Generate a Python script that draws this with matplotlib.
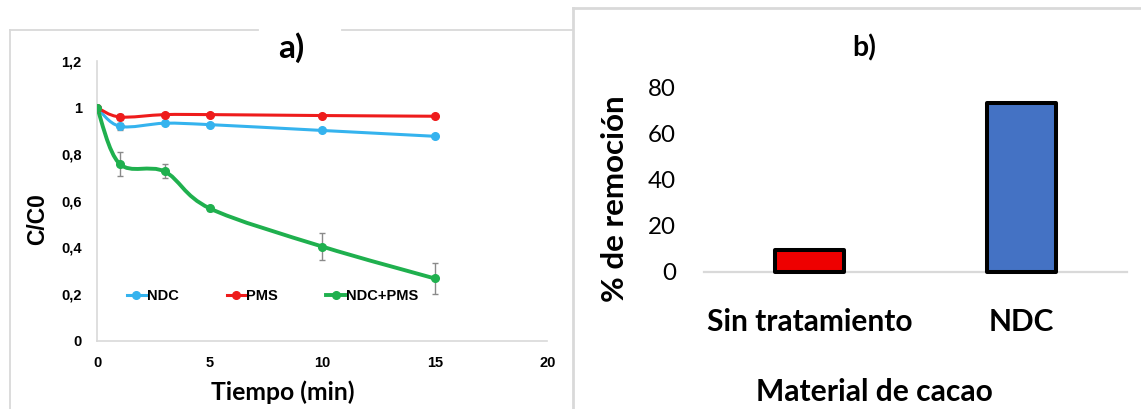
import numpy as np
import matplotlib
matplotlib.use("Agg")
import matplotlib.pyplot as plt
from matplotlib.path import Path
from matplotlib.patches import PathPatch
from matplotlib.lines import Line2D
from matplotlib.font_manager import FontProperties

# ---- data: panel a) ----
tiempo = [0, 1, 3, 5, 10, 15]
ndc = [1.0, 0.920, 0.933, 0.927, 0.902, 0.877]
pms = [1.0, 0.960, 0.970, 0.970, 0.966, 0.963]
ndc_pms = [1.0, 0.759, 0.726, 0.568, 0.404, 0.267]
err_ndc = [0, 0.015, 0, 0, 0, 0]
err_pms = [0, 0.014, 0, 0, 0, 0]
err_ndc_pms = [0, 0.051, 0.030, 0.012, 0.056, 0.066]
x_ticks = [0, 5, 10, 15, 20]
y_ticks = [0, 0.2, 0.4, 0.6, 0.8, 1.0, 1.2]
y_tick_labels = ["0", "0,2", "0,4", "0,6", "0,8", "1", "1,2"]

# ---- data: panel b) ----
materiales = ["Sin tratamiento", "NDC"]
remocion = [9.6, 73.4]
b_ticks = [0, 20, 40, 60, 80]
b_tick_labels = ["0", "20", "40", "60", "80"]

W, H = 1141, 409
fig = plt.figure(figsize=(W / 100, H / 100), dpi=100)
renderer = fig.canvas.get_renderer()

ARIAL = ["Liberation Sans", "DejaVu Sans"]
CALI = ["Lato", "DejaVu Sans"]

C_BLUE = "#35b3ee"
C_RED = "#ee1c1c"
C_GREEN = "#1fb04e"
BORDER = "#d9d9d9"


def fx(px):
    return px / W


def fy(py):
    return 1 - py / H


def fit_size(text, family, weight, target_px, base=20.0):
    t = fig.text(0, 0, text, fontproperties=FontProperties(family=family, weight=weight, size=base))
    w = t.get_window_extent(renderer).width
    t.remove()
    return base * target_px / w


def put(text, cx, cy, width, family, weight, rotation=0):
    size = fit_size(text, family, weight, width)
    fig.text(fx(cx), fy(cy), text,
             fontproperties=FontProperties(family=family, weight=weight, size=size),
             rotation=rotation, ha="center", va="center")


def style_labels(labels, family, weight, size):
    for lab in labels:
        lab.set_fontproperties(FontProperties(family=family, weight=weight, size=size))


def smooth_path(xs, ys):
    # Catmull-Rom style cubic Bezier through every point
    p = np.column_stack([xs, ys]).astype(float)
    n = len(p)
    verts = [p[0]]
    codes = [Path.MOVETO]
    for i in range(n - 1):
        p0 = p[i - 1] if i > 0 else p[i]
        p1 = p[i]
        p2 = p[i + 1]
        p3 = p[i + 2] if i + 2 < n else p[i + 1]
        c1 = p1 + (p2 - p0) / 6.0
        c2 = p2 - (p3 - p1) / 6.0
        verts += [c1, c2, p2]
        codes += [Path.CURVE4] * 3
    return Path(np.array(verts), codes)


# ---- panel frames ----
fig.add_artist(Line2D([fx(9.5), fx(9.5)], [fy(30), fy(409)], color=BORDER, lw=1.3))
fig.add_artist(Line2D([fx(9.5), fx(258)], [fy(30), fy(30)], color=BORDER, lw=1.3))
fig.add_artist(Line2D([fx(342), fx(572.5)], [fy(30), fy(30)], color=BORDER, lw=1.3))
fig.add_artist(Line2D([fx(572.5), fx(572.5)], [fy(8.3), fy(409)], color=BORDER, lw=2))
fig.add_artist(Line2D([fx(572.5), fx(1141)], [fy(8.3), fy(8.3)], color=BORDER, lw=2))

# ---- panel a) ----
ax = fig.add_axes([fx(97.1), fy(340.7), fx(547.3) - fx(97.1), fy(61) - fy(340.7)])
ax.set_xlim(0, 20)
ax.set_ylim(0, 1.2)
for s in ["top", "right"]:
    ax.spines[s].set_visible(False)
for s in ["left", "bottom"]:
    ax.spines[s].set_color(BORDER)
    ax.spines[s].set_linewidth(1.2)
ax.tick_params(length=0, pad=11)
ax.set_xticks(x_ticks)
ax.set_xticklabels([str(v) for v in x_ticks])
ax.set_yticks(y_ticks)
ax.set_yticklabels(y_tick_labels)
style_labels(ax.get_xticklabels() + ax.get_yticklabels(), ARIAL, "bold", 10.5)

series = [
    (ndc, err_ndc, C_BLUE, 2.2, "NDC"),
    (pms, err_pms, C_RED, 2.2, "PMS"),
    (ndc_pms, err_ndc_pms, C_GREEN, 2.8, "NDC+PMS"),
]
handles = []
for vals, err, col, lw, name in series:
    ax.errorbar(tiempo, vals, yerr=err, fmt="none", ecolor="#8a8a8a",
                elinewidth=1.0, capsize=2.5, capthick=1.0, zorder=2)
    ax.add_patch(PathPatch(smooth_path(tiempo, vals), facecolor="none",
                           edgecolor=col, lw=lw, zorder=3, capstyle="round"))
    ax.plot(tiempo, vals, "o", color=col, ms=5.5, zorder=4)
    handles.append(Line2D([], [], color=col, lw=lw, marker="o", ms=5.5, label=name))

leg = ax.legend(handles=handles, ncol=3, frameon=False, loc="center left",
                bbox_to_anchor=(fx(127), fy(296)), bbox_transform=fig.transFigure,
                borderpad=0, borderaxespad=0, handlelength=1.3, handletextpad=0.05,
                columnspacing=3.3,
                prop=FontProperties(family=ARIAL, weight="bold", size=10.5))

put("a)", 291, 48, 26, CALI, "bold")
put("C/C0", 38, 219, 52, ARIAL, "bold", rotation=90)
put("Tiempo (min)", 283, 392, 144, CALI, "bold")

# ---- panel b) ----
bx = fig.add_axes([fx(704), fy(271.7), fx(1127) - fx(704), fy(87.7) - fy(271.7)])
bx.set_xlim(-0.5, 1.5)
bx.set_ylim(0, 80)
for s in ["top", "right", "left"]:
    bx.spines[s].set_visible(False)
bx.spines["bottom"].set_color(BORDER)
bx.spines["bottom"].set_linewidth(1.6)
pos = np.arange(len(materiales))
bars = bx.bar(pos, remocion, width=0.325, color=["#ee0000", "#4472c4"],
              edgecolor="black", linewidth=2.9, zorder=3)
for b in bars:
    b.set_joinstyle("round")
    b.set_clip_on(False)

bx.tick_params(axis="y", length=0, pad=28 * 0.72)
bx.set_yticks(b_ticks)
bx.set_yticklabels(b_tick_labels)
style_labels(bx.get_yticklabels(), CALI, "normal", fit_size("80", CALI, "normal", 28))

bx.tick_params(axis="x", length=0, pad=(308 - 271.7) * 0.72)
bx.set_xticks(pos)
bx.set_xticklabels(materiales)
style_labels(bx.get_xticklabels(), CALI, "bold", fit_size(materiales[0], CALI, "bold", 205))

put("b)", 864, 48, 24, CALI, "bold")
put("% de remoción", 615.5, 198.5, 207, CALI, "bold", rotation=90)
put("Material de cacao", 874, 392, 236, CALI, "bold")

fig.savefig("out.png", dpi=100)
